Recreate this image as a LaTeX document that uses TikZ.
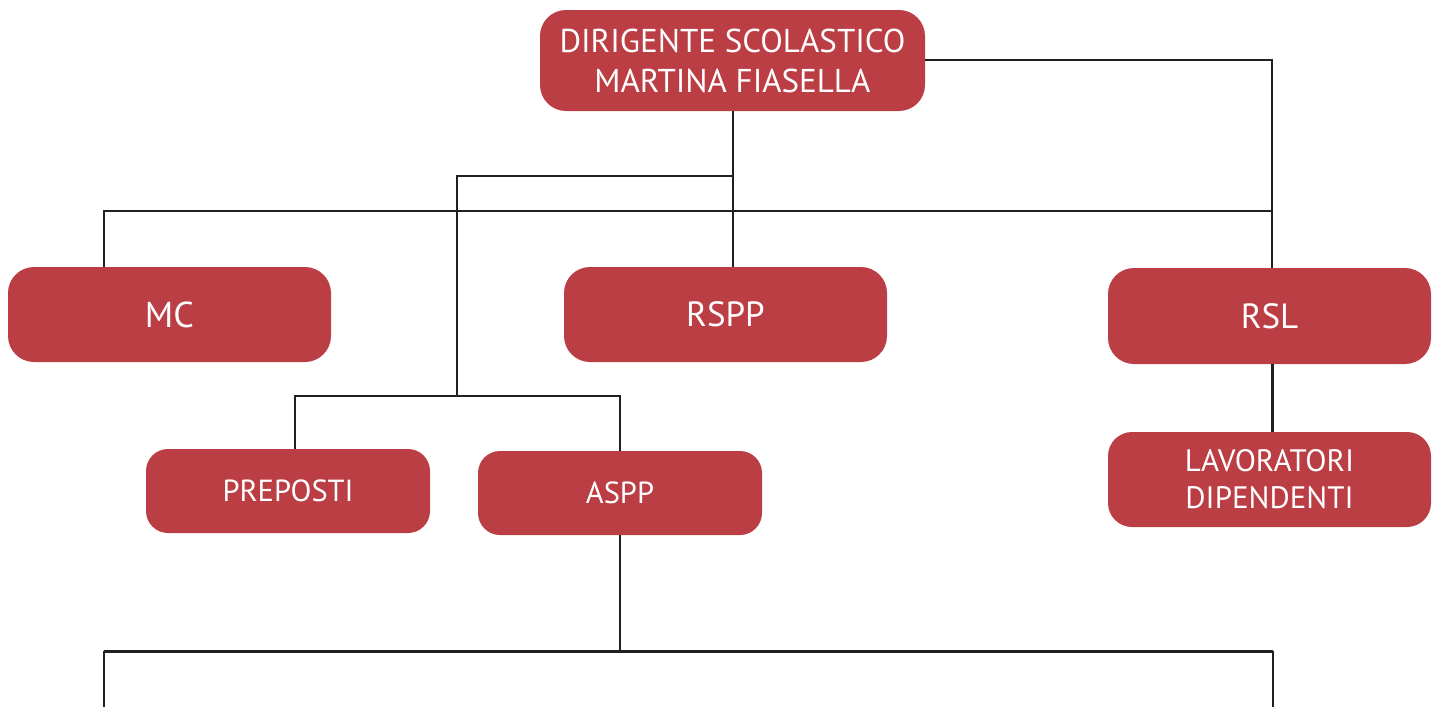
\documentclass[tikz,border=0pt]{standalone}
\usepackage{fontspec}
\setmainfont{PT Sans}
\definecolor{boxred}{HTML}{BC3E45}
\definecolor{linec}{HTML}{231F20}
\begin{document}
\begin{tikzpicture}[x=1pt,y=-1pt,
  box/.style={fill=boxred,text=white,rounded corners=26pt,inner sep=0pt,align=center},
  conn/.style={draw=linec,line width=2pt},
  thick conn/.style={draw=linec,line width=3pt}]
\useasboundingbox (0,0) rectangle (1440,707);
\node[box,minimum width=385pt,minimum height=101pt,font=\fontsize{33}{40}\selectfont] (ds) at (732.5,60.5) {DIRIGENTE SCOLASTICO\\MARTINA FIASELLA};
\node[box,minimum width=323pt,minimum height=95pt,font=\fontsize{36}{42}\selectfont] (mc) at (169.5,314.5) {MC};
\node[box,minimum width=323pt,minimum height=95pt,font=\fontsize{35}{42}\selectfont] (rspp) at (725.5,314.5) {RSPP};
\node[box,minimum width=323pt,minimum height=96pt,font=\fontsize{35}{42}\selectfont] (rsl) at (1269.5,316) {RSL};
\node[box,rounded corners=22pt,minimum width=284pt,minimum height=84pt,font=\fontsize{30.5}{36}\selectfont] (pre) at (288,491) {PREPOSTI};
\node[box,rounded corners=22pt,minimum width=284pt,minimum height=84pt,font=\fontsize{30.5}{36}\selectfont] (aspp) at (620,493) {ASPP};
\node[box,rounded corners=24pt,minimum width=323pt,minimum height=95pt,font=\fontsize{31}{37}\selectfont] (lav) at (1269.5,479.5) {LAVORATORI\\DIPENDENTI};
% junction coordinates
\coordinate (jA) at (732.5,176);
\coordinate (jB) at (457,176);
\coordinate (jC) at (457,396);
\coordinate (jP) at (295,396);
\coordinate (jS) at (620,396);
\coordinate (hL) at (104,211);
\coordinate (hR) at (1272,211);
\coordinate (tR) at (1272,60);
\coordinate (bM) at (620,651);
\coordinate (bL) at (104,651);
\coordinate (bR) at (1273,651);
\coordinate (eL) at (104,707);
\coordinate (eR) at (1273,707);
% connectors
\draw[conn] (ds.south) -- (ds.south |- rspp.north);
\draw[conn] (jA) -- (jB) -- (jC);
\draw[conn] (jP |- pre.north) -- (jP) -- (jS) -- (jS |- aspp.north);
\draw[conn] (hL |- mc.north) -- (hL) -- (hR);
\draw[conn] (ds.east |- tR) -- (tR) -- (tR |- rsl.north);
\draw[thick conn] (tR |- rsl.south) -- (tR |- lav.north);
\draw[conn] (aspp.south) -- (bM);
\draw[thick conn] (bL) -- (bR);
\draw[conn] (eL) -- (bL);
\draw[conn] (eR) -- (bR);
\end{tikzpicture}
\end{document}
